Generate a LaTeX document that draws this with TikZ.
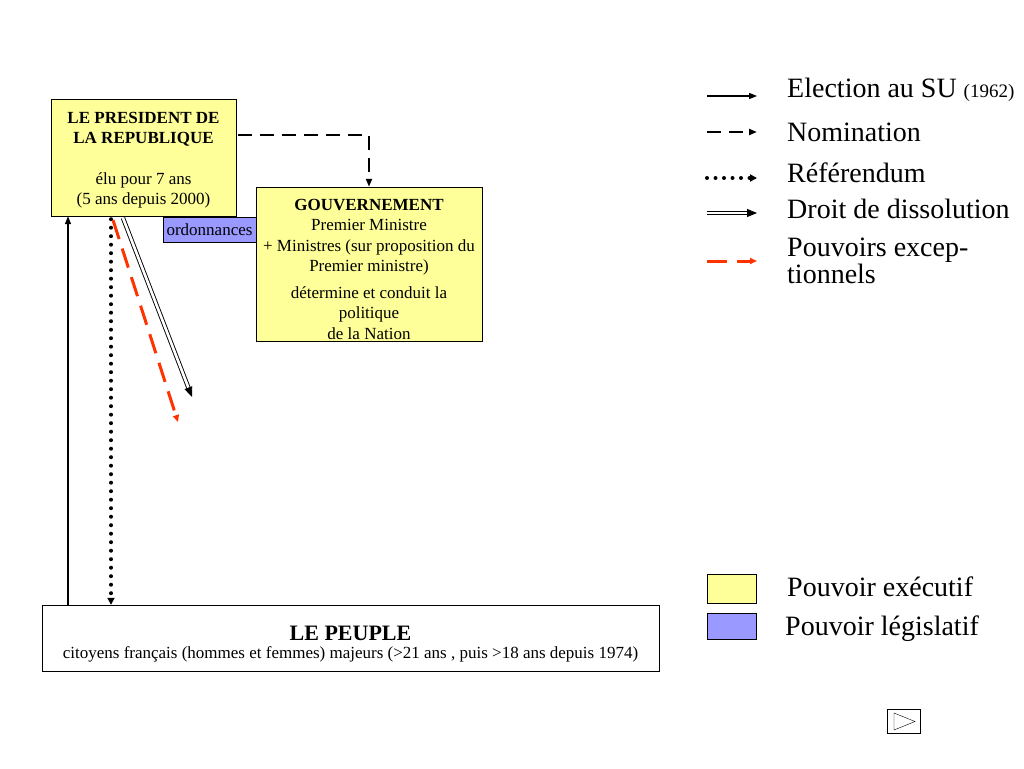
\documentclass[tikz,border=0pt]{standalone}
\usepackage{fontspec}
\setmainfont{Liberation Serif}
\usetikzlibrary{arrows.meta, positioning}

\definecolor{execyellow}{HTML}{FFFF99}
\definecolor{legisblue}{HTML}{9999FF}
\definecolor{exceptred}{HTML}{FF3300}

\begin{document}
\begin{tikzpicture}[x=1pt, y=-1pt, >={Triangle[length=8pt,width=6pt]},
    box/.style={draw, thin, align=center, inner sep=0pt, font={\fontsize{17}{20.5}\selectfont}},
    boxtext/.style={align=center, inner sep=0pt, font={\fontsize{17}{20.5}\selectfont}},
    legend/.style={anchor=west, align=left, inner sep=0pt, font={\fontsize{28}{27}\selectfont}},
    election/.style={->, line width=1.3pt},
    nomination/.style={->, line width=2.2pt, dash pattern=on 14pt off 8pt},
    referendum/.style={-{Triangle[length=7pt,width=7pt]}, line width=4pt, line cap=round, dash pattern=on 0pt off 8.5pt},
    dissolution/.style={-{Triangle[length=10pt,width=8pt]}, double, double distance=2.6pt, line width=0.9pt},
    exceptional/.style={-{Triangle[length=7pt,width=6pt]}, exceptred, line width=3pt, dash pattern=on 20pt off 10pt}]
    \useasboundingbox[fill=white] (0,0) rectangle (1024,768);

    % the boxes
    \node[box, fill=execyellow, minimum width=185pt, minimum height=117pt] (pres) at (143.5,157.5) {};
    \node[boxtext] (prestext) at ([yshift=-2.5pt]pres.center)
        {\textbf{LE PRESIDENT DE}\\\textbf{LA REPUBLIQUE}\\[20pt]élu pour 7 ans\\(5 ans depuis 2000)};
    \node[box, fill=execyellow, minimum width=226pt, minimum height=154pt] (gouv) at (369,264) {};
    \node[boxtext] (gouvtext) at ([yshift=-5pt]gouv.center)
        {\textbf{GOUVERNEMENT}\\Premier Ministre\\+ Ministres (sur proposition du\\Premier ministre)\\[6pt]détermine et conduit la\\politique\\de la Nation};
    \node[box, fill=legisblue, minimum width=93pt, minimum height=25pt] (ordo) at (209.5,229.5) {ordonnances};
    \node[box, minimum width=617pt, minimum height=66pt] (peuple) at (350.5,638) {};
    \node[font={\fontsize{22}{24}\selectfont\bfseries}, inner sep=0pt] (peupletitle) at (350.5,633) {LE PEUPLE};
    \node[font={\fontsize{17}{20}\selectfont}, inner sep=0pt] (peupletext) [below=6pt of peupletitle]
        {citoyens français (hommes et femmes) majeurs (>21 ans , puis >18 ans depuis 1974)};

    % the powers
    \coordinate (elec) at (68,0);
    \coordinate (refer) at (111,0);
    \coordinate (dissolstart) at (123,218);
    \coordinate (dissolend) at (192,397);
    \coordinate (exceptstart) at (113,220);
    \coordinate (exceptend) at (178,422);
    \draw[election] (elec |- peuple.north) -- (elec |- pres.south);
    \draw[referendum] (refer |- pres.south) ++(0,3) -- (refer |- peuple.north);
    \draw[nomination] (pres.east |- 0,135) ++(2,0) -| (gouv.north);
    \draw[dissolution] (dissolstart) -- (dissolend);
    \draw[exceptional] (exceptstart) -- (exceptend);

    % legend of the arrows
    \node[legend] (lelec) at (787,90) {Election au SU {\fontsize{19}{20}\selectfont(1962)}};
    \node[legend] (lnomi) at (787,132) {Nomination};
    \node[legend] (lrefer) at (787,173) {Référendum};
    \node[legend] (ldissol) at (787,209) {Droit de dissolution};
    \node[legend] (lexcept) at (787,261) {Pouvoirs excep-\\tionnels};
    \foreach \y/\kind in {96/election, 132/nomination, 178/referendum, 213/dissolution, 261/exceptional}
        \draw[\kind] (707,\y) -- (757,\y);

    % legend of the colours
    \node[draw, thin, fill=execyellow, minimum width=49pt, minimum height=29pt, inner sep=0pt] (kexec) at (731.5,588.5) {};
    \node[draw, thin, fill=legisblue, minimum width=49pt, minimum height=26pt, inner sep=0pt] (klegis) at (731.5,626) {};
    \node[legend] (lexec) at (787,587) {Pouvoir exécutif};
    \node[legend] (llegis) at (785,629) {Pouvoir législatif};

    % next button
    \node[draw, thin, minimum width=33pt, minimum height=24pt, inner sep=0pt] (next) at (903.5,721) {};
    \draw[thin] (894,713) -- (894,730) -- (915,721.5) -- cycle;
\end{tikzpicture}
\end{document}
